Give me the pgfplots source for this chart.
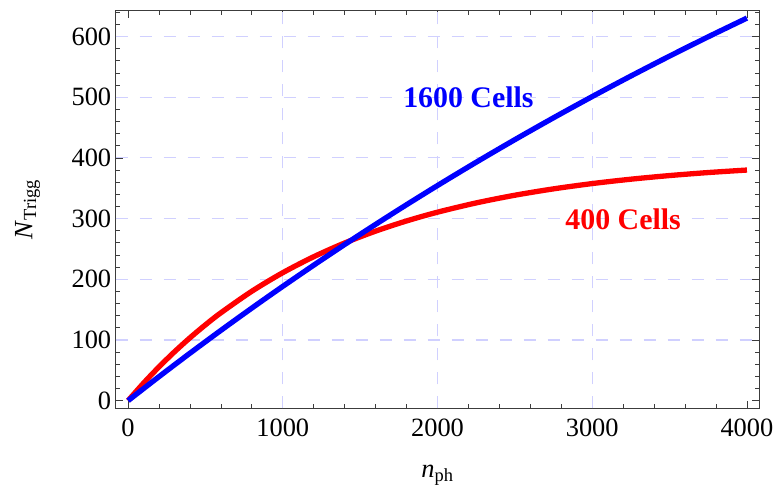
\documentclass[border=0pt]{standalone}
\usepackage{fontspec}
\setmainfont{Liberation Serif}
\usepackage{pgfplots}
\pgfplotsset{compat=1.18}
\definecolor{gridlav}{RGB}{208,208,255}
\definecolor{framegray}{RGB}{60,60,60}

% Triggered cells versus number of photons
\pgfplotstableread{
nph   ntrig
0     0
100   28.87
200   55.65
300   80.50
400   103.56
500   124.95
600   144.80
800   180.30
1000  210.87
1200  237.19
1400  259.84
1600  279.34
1800  296.13
2000  310.58
2250  325.84
2500  338.51
2750  349.01
3000  357.72
3250  364.94
3500  370.93
3750  375.90
4000  380.01
}\cellsFourHundred

\pgfplotstableread{
nph   ntrig
0     0
200   39.58
400   78.18
600   115.82
800   152.54
1000  188.34
1250  231.85
1500  274.02
1750  314.88
2000  354.49
2250  392.88
2500  430.09
2750  466.15
3000  501.10
3250  534.97
3500  567.80
3750  599.61
4000  630.40
}\cellsSixteenHundred

\begin{document}
\begin{tikzpicture}
\useasboundingbox (-115.7bp,-94.7bp) rectangle (659.3bp,408.3bp);
\begin{axis}[
  at={(0,0)}, anchor=south west,
  scale only axis, width=643.6bp, height=397.6bp,
  xmin=-80, xmax=4080, ymin=-12.6, ymax=642.6,
  xtick={0,1000,...,4000}, ytick={0,100,...,600},
  minor xtick={0,200,...,4000}, minor ytick={0,20,...,640},
  extra x ticks={1000,2000,3000}, extra x tick labels={},
  extra x tick style={grid=major, major tick length=0pt},
  extra y ticks={100,200,...,600}, extra y tick labels={},
  extra y tick style={grid=major, major tick length=0pt},
  major grid style={gridlav, line width=1.1bp, dash pattern=on 12bp off 12bp},
  tick align=inside,
  major tick length=7bp, minor tick length=4bp,
  axis line style={framegray, line width=0.9bp},
  every tick/.style={framegray, line width=0.8bp},
  /pgf/number format/assume math mode=true,
  /pgf/number format/1000 sep={},
  scaled ticks=false,
  tick label style={font=\fontsize{26.5}{30}\selectfont},
  xticklabel style={yshift=-7bp},
  yticklabel style={xshift=-1bp},
  label style={font=\fontsize{26.5}{30}\selectfont},
  xlabel={\textit{n}\textsubscript{ph}},
  xlabel style={at={(axis description cs:0.5,-0.173)}, anchor=base},
  clip=true,
]
\addplot[red, line width=5.3bp, smooth] table[x=nph, y=ntrig] {\cellsFourHundred};
\addplot[blue, line width=5.3bp, smooth] table[x=nph, y=ntrig] {\cellsSixteenHundred};
\node[font=\bfseries\fontsize{30}{34}\selectfont, text=blue] at (axis cs:2200,499.5) {1600 Cells};
\node[font=\bfseries\fontsize{30}{34}\selectfont, text=red] at (axis cs:3200,299) {400 Cells};
\end{axis}
% vertical axis title
\node[font=\fontsize{26.5}{30}\selectfont, rotate=90, anchor=center]
  at (-88.2bp,198.8bp) {\textit{N}\textsubscript{Trigg}};
\end{tikzpicture}
\end{document}
